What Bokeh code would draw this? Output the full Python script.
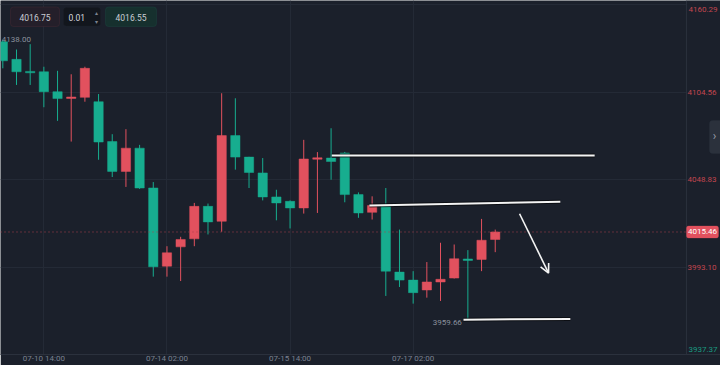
from bokeh.plotting import figure
from bokeh.models import (Range1d, FixedTicker, PrintfTickFormatter, Span, Label,
                          Arrow, OpenHead, BoxAnnotation)
from bokeh.embed import file_html
from bokeh.resources import INLINE
from bokeh.core.properties import value

# ---------------- data ----------------
candle_idx = list(range(37))
opens = [4136.7, 4125.5, 4117.6, 4117.6, 4104.9, 4100.8, 4101.3, 4098.5, 4073.1, 4054.1,
         4068.9, 4043.5, 3993.7, 4006.0, 4011.1, 4031.8, 4022.3, 4076.9, 4063.2, 4053.1,
         4037.8, 4035.0, 4030.8, 4062.1, 4062.6, 4065.8, 4039.3, 4028.0, 4032.9, 3989.9,
         3984.8, 3978.5, 3983.6, 3986.1, 3998.0, 3998.0, 4010.7]
closes = [4124.6, 4117.6, 4117.2, 4104.9, 4100.5, 4101.3, 4119.8, 4072.8, 4054.1, 4068.9,
          4043.5, 3993.3, 4002.2, 4010.7, 4031.8, 4021.9, 4076.9, 4063.2, 4053.4, 4037.8,
          4034.0, 4030.8, 4062.0, 4062.5, 4060.4, 4039.3, 4027.6, 4032.3, 3990.5, 3984.8,
          3976.8, 3983.6, 3985.3, 3998.4, 3997.6, 4010.2, 4015.46]
highs = [4138.0, 4131.8, 4135.2, 4120.8, 4118.2, 4116.0, 4120.8, 4103.4, 4077.8, 4081.0,
         4071.0, 4047.3, 4006.4, 4012.4, 4034.0, 4033.6, 4103.9, 4100.7, 4063.4, 4062.6,
         4042.4, 4035.6, 4074.2, 4066.4, 4081.6, 4066.5, 4040.7, 4038.2, 4043.5, 4017.0,
         3990.5, 3996.3, 4008.6, 4007.5, 4003.9, 4023.8, 4017.0]
lows = [4119.8, 4109.2, 4109.2, 4095.0, 4086.3, 4073.1, 4098.5, 4061.5, 4050.5, 4044.2,
        4042.9, 3987.0, 3987.0, 3984.2, 4006.4, 4013.9, 4015.6, 4055.2, 4043.5, 4035.6,
        4022.9, 4017.7, 4027.2, 4027.6, 4048.8, 4034.4, 4024.5, 4023.4, 3974.7, 3980.4,
        3969.8, 3973.6, 3971.5, 3985.8, 3959.66, 3990.5, 4002.6]

x_tick_idx = [3, 12, 21, 30]
x_tick_labels = ["07-10 14:00", "07-14 02:00", "07-15 14:00", "07-17 02:00"]
y_top_value = 4160.29
y_tick_values = [4104.56, 4048.83, 3993.10]
y_bottom_value = 3937.37
last_price = 4015.46
high_mark = 4138.00
low_mark = 3959.66
sell_text = "4016.75"
step_text = "0.01"
buy_text = "4016.55"

# hand-drawn lines (candle index, price)
resist1_x = [24.05, 43.27]
resist1_y = [4064.3, 4064.3]
resist2_x = [26.8, 40.76]
resist2_y = [4032.4, 4034.8]
support_x = [33.68, 41.49]
support_y = [3959.6, 3960.0]
arrow_x = [37.78, 39.9]
arrow_y = [4027.1, 3989.3]

# ---------------- style ----------------
BG = "#1b202b"
GRID = "#242a36"
GREEN = "#17ad8f"
RED = "#e2515e"
AXIS_RED = "#c2464f"
AXIS_GREEN = "#1a9a80"
TXT = "#7a8190"
FONT = "Roboto"

X0 = -0.17          # left edge of the chart (index units)
X_PANE = 49.98      # index at the price-scale border
X1 = 52.47          # right edge of the canvas

p = figure(width=720, height=365, output_backend="svg", toolbar_location=None,
           x_range=Range1d(X0, X1), y_range=Range1d(y_bottom_value, 4163.03),
           y_axis_location="right",
           min_border_left=0, min_border_top=0, min_border_right=0, min_border_bottom=11,
           background_fill_color=BG, border_fill_color=BG, outline_line_color=None)

# axes
p.xaxis.ticker = FixedTicker(ticks=x_tick_idx)
p.xaxis.major_label_overrides = {t: l for t, l in zip(x_tick_idx, x_tick_labels)}
p.yaxis.ticker = FixedTicker(ticks=y_tick_values)
p.yaxis.formatter = PrintfTickFormatter(format="%.2f")
for ax in (p.xaxis[0], p.yaxis[0]):
    ax.axis_line_color = None
    ax.major_tick_line_color = None
    ax.minor_tick_line_color = None
    ax.major_tick_out = 0
    ax.major_tick_in = 0
    ax.minor_tick_out = 0
    ax.major_label_text_font = FONT
    ax.major_label_text_font_size = "8px"
p.xaxis.major_label_standoff = -1
p.xaxis.axis_line_color = "#2b313d"
p.yaxis.major_label_standoff = -33
p.xaxis.major_label_text_color = TXT
p.yaxis.major_label_text_color = AXIS_RED
p.xgrid.grid_line_color = GRID
p.ygrid.ticker = FixedTicker(ticks=[y_top_value] + y_tick_values)
p.ygrid.grid_line_color = GRID

# candles
body_top, body_bot, colors = [], [], []
for o, c in zip(opens, closes):
    t, b = max(o, c), min(o, c)
    if t - b < 0.8:
        m = (t + b) / 2
        t, b = m + 0.45, m - 0.45
    body_top.append(t)
    body_bot.append(b)
    colors.append(RED if c > o else GREEN)

p.segment(x0=candle_idx, y0=lows, x1=candle_idx, y1=highs, line_color=colors, line_width=1)
p.vbar(x=candle_idx, width=0.68, top=body_top, bottom=body_bot,
       fill_color=colors, line_color=colors, line_width=0.5)

# last price dotted line
p.add_layout(Span(location=last_price, dimension="width", line_color="#a8414d",
                  line_dash="1 3", line_width=1))

# drawn lines with dark outline
for xs, ys in ((resist1_x, resist1_y), (resist2_x, resist2_y), (support_x, support_y)):
    p.line(xs, ys, line_color="#05070a", line_width=4, line_alpha=0.7)
    p.line(xs, ys, line_color="#f4f4f4", line_width=2)
p.add_layout(Arrow(x_start=arrow_x[0], y_start=arrow_y[0], x_end=arrow_x[1], y_end=arrow_y[1],
                   line_color="#f4f4f4", line_width=1.6,
                   end=OpenHead(size=9, line_color="#f4f4f4", line_width=1.6)))

# high / low marks
p.text(x=[0], y=[high_mark], text=["%.2f" % high_mark], text_align="left", text_baseline="middle",
       x_offset=-1, text_font=value(FONT), text_font_size="8px", text_color="#8a909c")
p.text(x=[34], y=[low_mark], text=["%.2f" % low_mark], text_align="right", text_baseline="middle",
       x_offset=-6, y_offset=3, text_font=value(FONT), text_font_size="8px", text_color="#8a909c")

# price-scale pane (right of the chart)
p.add_layout(BoxAnnotation(left=X_PANE, right=X1 + 1, fill_color=BG, fill_alpha=1,
                           line_color=None, level="glyph"))
p.add_layout(Span(location=X_PANE, dimension="height", line_color="#2b313d", line_width=1))

# price tag on axis
p.add_layout(BoxAnnotation(left=686, right=718, left_units="screen", right_units="screen",
                           top=last_price + 3.8, bottom=last_price - 3.8,
                           fill_color=RED, fill_alpha=1, line_color=RED, border_radius=2))
p.add_layout(Label(x=702, y=last_price, x_units="screen", text="%.2f" % last_price,
                   text_align="center", text_baseline="middle", text_color="white",
                   text_font=FONT, text_font_size="8px"))
# top / bottom scale values (kept inside the pane)
p.add_layout(Label(x=688, y=y_top_value, x_units="screen", y_offset=-5, text="%.2f" % y_top_value,
                   text_align="left", text_baseline="middle", text_color=AXIS_RED,
                   text_font=FONT, text_font_size="8px"))
p.add_layout(Label(x=688, y=y_bottom_value, x_units="screen", y_offset=5, text="%.2f" % y_bottom_value,
                   text_align="left", text_baseline="middle", text_color=AXIS_GREEN,
                   text_font=FONT, text_font_size="8px"))

# top-left trade boxes (frame-relative screen units)
FB = 354
def box(l, r, t, b, fill, line):
    p.add_layout(BoxAnnotation(left=l, right=r, top=FB - t, bottom=FB - b,
                               left_units="screen", right_units="screen",
                               top_units="screen", bottom_units="screen",
                               fill_color=fill, fill_alpha=1, line_color=line, line_width=1,
                               border_radius=3))
def lab(x, y, t, color, size="8.5px", align="center"):
    p.add_layout(Label(x=x, y=FB - y, x_units="screen", y_units="screen", text=t,
                       text_align=align, text_baseline="middle", text_color=color,
                       text_font=FONT, text_font_size=size))

box(10, 59, 6.5, 26, "#241f2a", "#5b2d38")
box(63, 100, 7, 25.5, "#12161d", "#1d222b")
box(105, 156, 6.5, 26, "#16302e", "#1f5249")
lab(34.5, 16.5, sell_text, "#c9ccd3")
lab(68, 16.5, step_text, "#d6d9de", align="left")
lab(96, 11.5, "▴", "#7d8490", size="6px")
lab(96, 20.5, "▾", "#7d8490", size="6px")
lab(130.5, 16.5, buy_text, "#c9ccd3")

# right side tab
box(709, 724, 120, 153, "#2b313c", "#2b313c")
lab(714, 135.5, "›", "#9aa0ab", size="12px")

open("out.html", "w").write(file_html(p, INLINE))
